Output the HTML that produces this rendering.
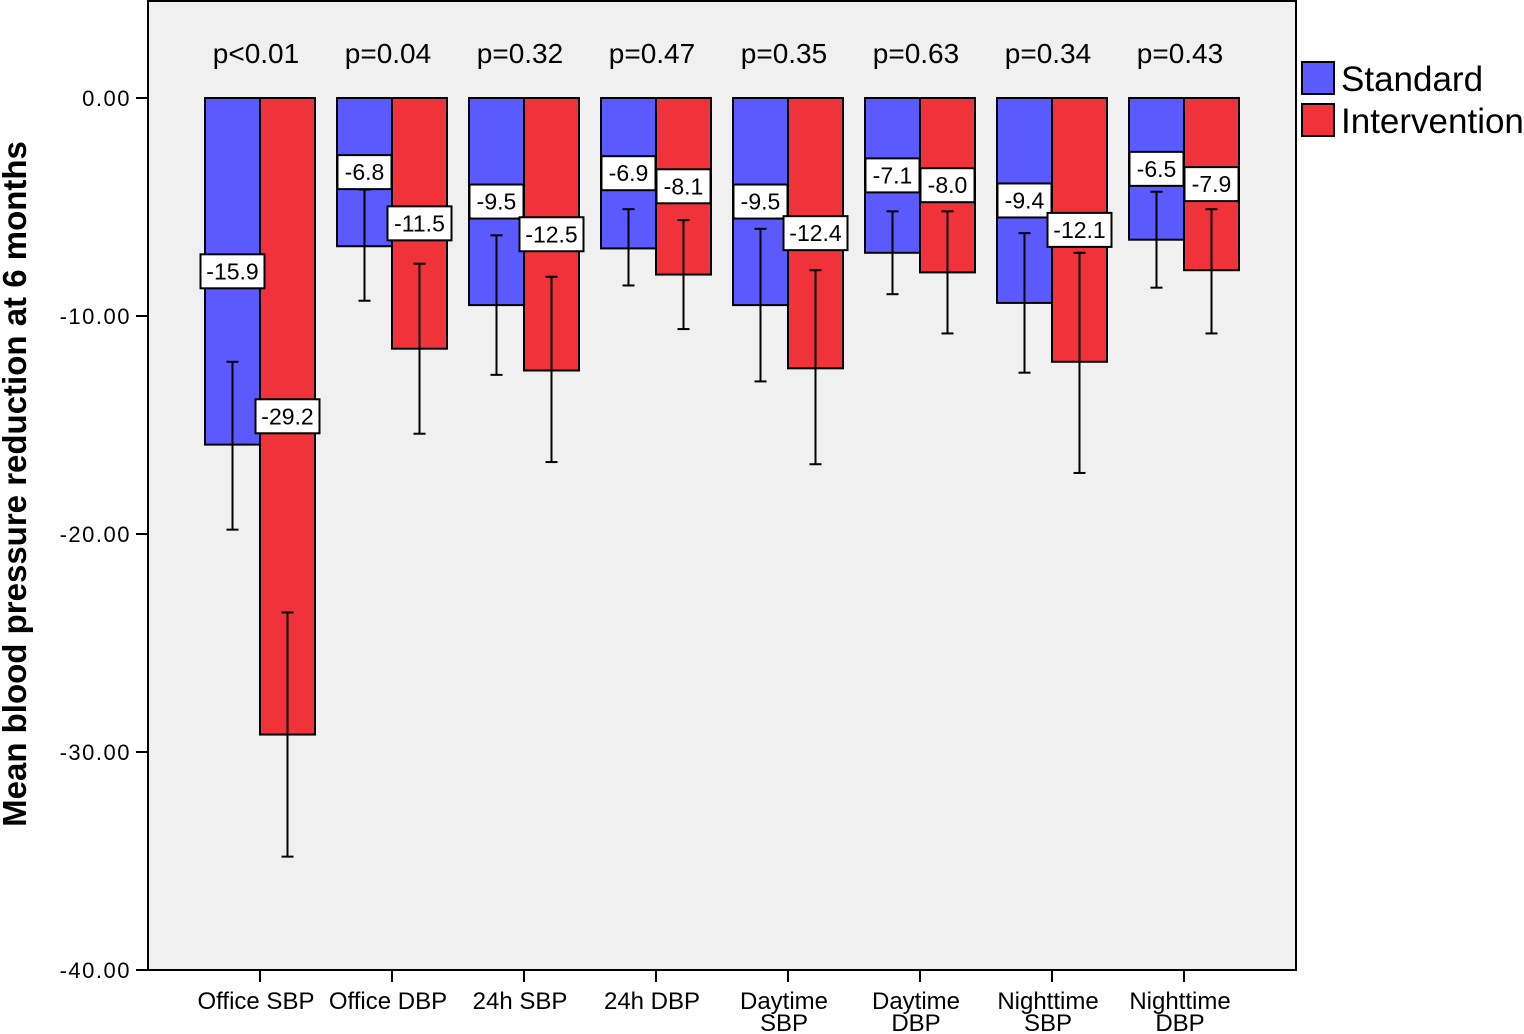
<!DOCTYPE html>
<html><head><meta charset="utf-8"><style>
body{margin:0;background:#fff;}
svg{display:block;font-family:"Liberation Sans",sans-serif;}
</style></head><body>
<svg id="chart" width="1524" height="1034" viewBox="0 0 1524 1034" xmlns="http://www.w3.org/2000/svg"></svg>
<script>
const categories=[["Office SBP"],["Office DBP"],["24h SBP"],["24h DBP"],["Daytime","SBP"],["Daytime","DBP"],["Nighttime","SBP"],["Nighttime","DBP"]];
const pValues=["p<0.01","p=0.04","p=0.32","p=0.47","p=0.35","p=0.63","p=0.34","p=0.43"];
const standardMeans=[-15.9,-6.8,-9.5,-6.9,-9.5,-7.1,-9.4,-6.5];
const interventionMeans=[-29.2,-11.5,-12.5,-8.1,-12.4,-8.0,-12.1,-7.9];
const standardLow=[-19.8,-9.3,-12.7,-8.6,-13.0,-9.0,-12.6,-8.7];
const standardHigh=[-12.1,-4.2,-6.3,-5.1,-6.0,-5.2,-6.2,-4.3];
const interventionLow=[-34.8,-15.4,-16.7,-10.6,-16.8,-10.8,-17.2,-10.8];
const interventionHigh=[-23.6,-7.6,-8.2,-5.6,-7.9,-5.2,-7.1,-5.1];
const yTicks=[0,-10,-20,-30,-40];
const yTickLabels=["0.00","-10.00","-20.00","-30.00","-40.00"];

const NS="http://www.w3.org/2000/svg";
const svg=document.getElementById('chart');
const y=v=>98+(-v)*21.8;
const xc=i=>260+i*132;
const BW=55;
function mk(tag,attrs,parent){const e=document.createElementNS(NS,tag);for(const k in attrs)e.setAttribute(k,attrs[k]);(parent||svg).appendChild(e);return e;}

const bg=mk('rect',{x:148,y:1,width:1148,height:969,fill:'#f0f0f0',stroke:'#000','stroke-width':2});



yTicks.forEach((t,i)=>{
  const g=mk('g',{});
  
  
  mk('line',{x1:136,x2:148,y1:y(t),y2:y(t),stroke:'#000','stroke-width':2},g);
  const tx=mk('text',{x:131,y:y(t)+8,'text-anchor':'end','font-size':22,'letter-spacing':'1.5'},g);
  tx.textContent=yTickLabels[i];
});
const yt=mk('text',{x:0,y:0,'font-size':33,'font-weight':'bold','text-anchor':'middle',transform:'translate(26,484) rotate(-90)'});


yt.textContent="Mean blood pressure reduction at 6 months";

function bar(x,v,color,name){
  const r=mk('rect',{x:x,y:y(0),width:BW,height:y(v)-y(0),fill:color,stroke:'#000','stroke-width':2});
  
  
}
function err(cx,lo,hi){
  const g=mk('g',{stroke:'#000','stroke-width':2});
  
  
  mk('line',{x1:cx,x2:cx,y1:y(hi),y2:y(lo)},g);
  mk('line',{x1:cx-6,x2:cx+6,y1:y(hi),y2:y(hi)},g);
  mk('line',{x1:cx-6,x2:cx+6,y1:y(lo),y2:y(lo)},g);
}
function label(cx,v){
  const g=mk('g',{});
  
  
  const cy=y(v/2);
  const txt=v.toFixed(1);
  const w=txt.length>4?64:54;
  mk('rect',{x:cx-w/2,y:cy-17,width:w,height:34,fill:'#fff',stroke:'#000','stroke-width':2},g);
  const t=mk('text',{x:cx,y:cy+8,'text-anchor':'middle','font-size':23},g);
  t.textContent=txt;
}
categories.forEach((c,i)=>{
  const x=xc(i);
  bar(x-BW,standardMeans[i],'#5a5aff','bar-standard');
  bar(x,interventionMeans[i],'#f0323a','bar-intervention');
});
categories.forEach((c,i)=>{
  const x=xc(i);
  err(x-BW/2,standardLow[i],standardHigh[i]);
  err(x+BW/2,interventionLow[i],interventionHigh[i]);
  label(x-BW/2,standardMeans[i]);
  label(x+BW/2,interventionMeans[i]);
  const p=mk('text',{x:x-4,y:63,'text-anchor':'middle','font-size':28});
  
  
  p.textContent=pValues[i];
  const tk=mk('line',{x1:x,x2:x,y1:970,y2:982,stroke:'#000','stroke-width':2});
  
  
  const xl=mk('text',{x:x-4,y:1009,'text-anchor':'middle','font-size':24});
  
  
  c.forEach((line,j)=>{const ts=mk('tspan',{x:x-4,dy:j?22:0},xl);ts.textContent=line;});
});
[['Standard','#5a5aff',62],['Intervention','#f0323a',104]].forEach(([n,col,yy])=>{
  const g=mk('g',{});
  
  
  mk('rect',{x:1302,y:yy,width:32,height:32,fill:col,stroke:'#000','stroke-width':2},g);
  const t=mk('text',{x:1341,y:yy+29,'font-size':35},g);
  t.textContent=n;
});
</script>
</body></html>
